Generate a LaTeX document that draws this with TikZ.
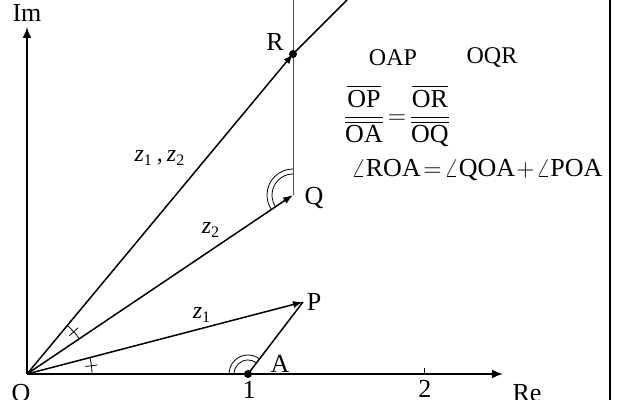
\documentclass[tikz,border=0pt]{standalone}
\usepackage{amsmath}
\usepackage{fontspec}
\setmainfont{Liberation Serif}
\usetikzlibrary{arrows.meta}

\begin{document}
\begin{tikzpicture}[x=0.5pt,y=0.5pt,
    every node/.style={font=\fontsize{13}{15}\selectfont},
    vec/.style={-{Latex[length=5pt,width=3.6pt]}, line width=0.75pt},
    axis/.style={-{Latex[length=5.5pt,width=4.4pt]}, line width=0.8pt},
    anglemark/.style={line width=0.4pt}]
  \useasboundingbox (-27,-26) rectangle (591,374);
  % points
  \coordinate (O) at (0,0);
  \coordinate (A) at (221,0);
  \coordinate (P) at (276,72);
  \coordinate (Q) at (266,179);
  \coordinate (R) at (266,320);
  \coordinate (Rend) at (320,374);
  \coordinate (Qtop) at (266,374);
  \coordinate (ImEnd) at (0,347);
  \coordinate (ReEnd) at (476,0);
  \coordinate (two) at (397,0);
  % axes
  \draw[axis] (O) -- (ImEnd);
  \draw[axis] (O) -- (ReEnd);
  \draw[line width=0.4pt] (two) -- ++(0,6);
  % lines and vectors
  \draw[line width=0.5pt, gray!60!black] (Q) -- (Qtop);
  \draw[line width=0.75pt] (A) -- (P);
  \draw[line width=0.75pt] (R) -- (Rend);
  \draw[vec] (O) -- (P);
  \draw[vec] (O) -- (Q);
  \draw[vec] (O) -- (R);
  \fill (R) circle[radius=4];
  \fill (A) circle[radius=4];
  % angle marks
  \draw[anglemark] (O) ++(0:65) arc[start angle=0, end angle=14.6, radius=65];
  \draw[anglemark] (O) ++(7.3:59) -- ++(7.3:12);
  \draw[anglemark] (O) ++(33.9:63) arc[start angle=33.9, end angle=50.3, radius=63];
  \draw[anglemark] (O) ++(42.1:57) -- ++(42.1:12);
  \draw[anglemark] (A) ++(180:14) arc[start angle=180, end angle=52.6, radius=14];
  \draw[anglemark] (A) ++(180:19) arc[start angle=180, end angle=52.6, radius=19];
  \draw[anglemark] (Q) ++(90:21) arc[start angle=90, end angle=213.9, radius=21];
  \draw[anglemark] (Q) ++(90:26) arc[start angle=90, end angle=213.9, radius=26];
  % labels
  \node (lIm) at (0,361) {Im};
  \node (lRe) at (500,-19) {Re};
  \node (lO) at (-6,-19) {O};
  \node (lone) at (222,-16) {1};
  \node (ltwo) at (398,-15) {2};
  \node (lA) at (253,10) {A};
  \node (lP) at (287,72) {P};
  \node (lQ) at (287,176) {Q};
  \node (lR) at (248,332) {R};
  \node[font=\fontsize{12}{14}\selectfont] (lzz) at (133,216) {{\itshape z}\textsubscript{1}\,,\,{\itshape z}\textsubscript{2}};
  \node[font=\fontsize{12}{14}\selectfont] (lzb) at (184,144) {{\itshape z}\textsubscript{2}};
  \node[font=\fontsize{12}{14}\selectfont] (lza) at (175,59) {{\itshape z}\textsubscript{1}};
  % text
  \node[font=\fontsize{12}{14}\selectfont] (tOAP) at (366,316) {OAP};
  \node[font=\fontsize{12}{14}\selectfont] (tOQR) at (465,316) {OQR};
  \node (tfrac) at (370,258) {$\dfrac{\overline{\mathrm{OP}}}{\overline{\mathrm{OA}}}\!=\!\dfrac{\overline{\mathrm{OR}}}{\overline{\mathrm{OQ}}}$};
  \node (tang) at (450,204) {$\angle\mathrm{ROA}\!=\!\angle\mathrm{QOA}\!+\!\angle\mathrm{POA}$};
  % frame
  \draw[line width=1.2pt] (583,-26) -- (583,374);
\end{tikzpicture}
\end{document}
